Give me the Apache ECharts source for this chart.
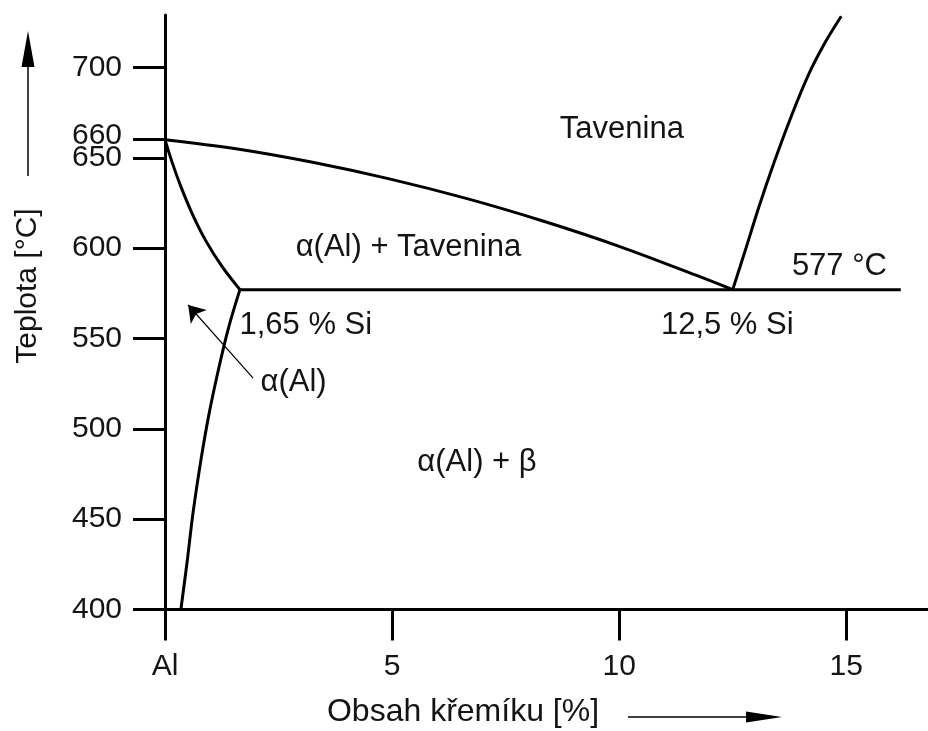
<!DOCTYPE html>
<html>
<head>
<meta charset="utf-8">
<script src="https://cdn.jsdelivr.net/npm/echarts@6/dist/echarts.min.js"></script>
<style>
  html, body { margin: 0; padding: 0; background: #fff; }
  #chart { width: 928px; height: 731px; }
</style>
</head>
<body>
<div id="chart"></div>
<script>
// Al–Si phase diagram (aluminium-rich side)

// x: silicon content [%], y: temperature [°C]
const liquidusAl = [[0, 660], [1.56, 655], [3.25, 647.5], [4.94, 638.3], [6.63, 627.5], [8.32, 615], [10.0, 601], [11.69, 585], [12.5, 577]];
const solidus = [[0, 660], [0.15, 648], [0.35, 634], [0.6, 619], [0.9, 604], [1.25, 590], [1.65, 577]];
const solvus = [[1.65, 577], [1.4, 556], [1.17, 532], [0.96, 507], [0.78, 481], [0.62, 454], [0.49, 427], [0.35, 400]];
const liquidusSi = [[12.5, 577], [12.78, 599], [13.08, 623], [13.42, 648], [13.79, 673], [14.17, 696], [14.54, 714], [14.89, 728.3]];
const eutectic = [[1.65, 577], [16.2, 577]];

// tick positions and labels
const xTicks = [0, 5, 10, 15];
const xTickLabels = ['Al', '5', '10', '15'];
const yTicks = [400, 450, 500, 550, 600, 650, 660, 700];

// region and point annotations: [x, y, text]
const annotations = [
  [10.06, 665.4, 'Tavenina'],
  [5.36, 600.6, 'α(Al) + Tavenina'],
  [14.85, 589.7, '577 °C'],
  [12.38, 557.4, '12,5 % Si'],
  [3.10, 557.4, '1,65 % Si'],
  [2.83, 525.4, 'α(Al)'],
  [6.87, 481.6, 'α(Al) + β']
];
// pointer from the α(Al) label to the narrow solid-solution field
const alphaPointer = [[1.94, 528], [0.51, 568.5]];

const FONT = "'Liberation Sans', Arial, sans-serif";
const INK = '#000';
const TEXT = '#141414';

function curve(data) {
  return {
    type: 'line', data: data, smooth: 0.35, showSymbol: false, silent: true,
    lineStyle: { color: INK, width: 3 }, z: 3
  };
}

const chart = echarts.init(document.getElementById('chart'), null, { renderer: 'canvas' });

chart.setOption({
  animation: false,
  backgroundColor: '#fff',
  grid: { left: 165, right: 0, top: 15, bottom: 121.5 },
  xAxis: {
    type: 'value', min: 0, max: 16.8,
    splitLine: { show: false },
    axisLine: { onZero: false, lineStyle: { color: INK, width: 3 } },
    axisTick: { length: 31, customValues: xTicks, lineStyle: { color: INK, width: 3 } },
    axisLabel: {
      customValues: xTicks, margin: 42, fontSize: 30, fontFamily: FONT, color: TEXT,
      formatter: v => xTickLabels[xTicks.indexOf(v)]
    }
  },
  yAxis: {
    type: 'value', min: 400, max: 729,
    splitLine: { show: false },
    axisLine: { onZero: false, lineStyle: { color: INK, width: 3 } },
    axisTick: { length: 32, customValues: yTicks, lineStyle: { color: INK, width: 3 } },
    axisLabel: {
      customValues: yTicks, margin: 43, fontSize: 30, fontFamily: FONT, color: TEXT,
      formatter: v => v === 660 ? '{lift|660}' : String(v),
      rich: { lift: { fontSize: 30, fontFamily: FONT, color: TEXT, padding: [0, 0, 8, 0] } }
    }
  },
  series: [
    curve(liquidusAl),
    curve(solidus),
    curve(solvus),
    curve(liquidusSi),
    { type: 'line', data: eutectic, showSymbol: false, silent: true, lineStyle: { color: INK, width: 3 }, z: 3 },
    {
      type: 'lines', coordinateSystem: 'cartesian2d', silent: true,
      data: [{ coords: alphaPointer }],
      symbol: ['none', 'arrow'], symbolSize: [9, 16],
      lineStyle: { color: INK, width: 1.2, opacity: 1 }, z: 4
    },
    {
      type: 'scatter', silent: true, symbolSize: 1,
      itemStyle: { color: 'rgba(0,0,0,0)', opacity: 1 },
      data: annotations.map(a => ({ value: [a[0], a[1]], name: a[2] })),
      label: {
        show: true, position: 'inside', formatter: p => p.name,
        fontSize: 31, fontFamily: FONT, color: TEXT, opacity: 1, align: 'center', verticalAlign: 'middle'
      },
      z: 5
    }
  ],
  graphic: [
    // axis titles with their direction arrows
    {
      type: 'text', x: 28, y: 286, rotation: Math.PI / 2, silent: true,
      style: { text: 'Teplota [°C]', font: '30px ' + FONT, fill: TEXT, align: 'center', verticalAlign: 'middle' }
    },
    { type: 'line', silent: true, shape: { x1: 28, y1: 176, x2: 28, y2: 60 }, style: { stroke: INK, lineWidth: 1.5 } },
    { type: 'polygon', silent: true, shape: { points: [[28, 31], [34.5, 67], [21.5, 67]] }, style: { fill: INK } },
    {
      type: 'text', x: 463, y: 712, silent: true,
      style: { text: 'Obsah křemíku [%]', font: '32px ' + FONT, fill: TEXT, align: 'center', verticalAlign: 'middle' }
    },
    { type: 'line', silent: true, shape: { x1: 628, y1: 717, x2: 755, y2: 717 }, style: { stroke: INK, lineWidth: 1.5 } },
    { type: 'polygon', silent: true, shape: { points: [[782, 717], [746, 711.5], [746, 722.5]] }, style: { fill: INK } }
  ]
});
</script>
</body>
</html>
